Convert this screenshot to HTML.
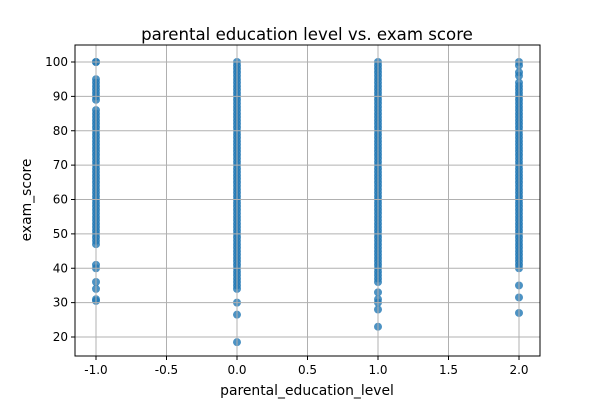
<!DOCTYPE html>
<html><head><meta charset="utf-8"><style>
body{margin:0;background:#fff;}
svg{display:block;font-family:"DejaVu Sans","Liberation Sans",sans-serif;}
</style></head><body>
<svg id="chart" width="600" height="400">
<rect width="600" height="400" fill="#fff"/>
<text x="307" y="40" text-anchor="middle" font-size="16.6">parental education level vs. exam score</text>
<g id="pts"></g><g id="grid"></g><g id="axes"></g>
<text x="307" y="395" text-anchor="middle" font-size="13.9">parental_education_level</text>
<text transform="translate(31,200) rotate(-90)" text-anchor="middle" font-size="13.9">exam_score</text>
</svg>
<script>
const categories=[-1,0,1,2];
const scoresNeg1=[100,100,95,94,93,92,91,90,89,86,85,84,83,82,81,80,79,78,77,76,75,74,73,72,71,70,69,68,67,66,65,64,63,62,61,60,59,58,57,56,55,54,53,52,51,50,49,48,47,41,40,36,34,31,30.5];
const scores0=[100,99,98,97,96,95,94,93,92,91,90,89,88,87,86,85,84,83,82,81,80,79,78,77,76,75,74,73,72,71,70,69,68,67,66,65,64,63,62,61,60,59,58,57,56,55,54,53,52,51,50,49,48,47,46,45,44,43,42,41,40,39,38,37,36,35,34,30,26.5,18.5];
const scores1=[100,99,98,97,96,95,94,93,92,91,90,89,88,87,86,85,84,83,82,81,80,79,78,77,76,75,74,73,72,71,70,69,68,67,66,65,64,63,62,61,60,59,58,57,56,55,54,53,52,51,50,49,48,47,46,45,44,43,42,41,40,39,38,37,36,33,31,30,28,23];
const scores2=[100,99,97,96,94,93,92,91,90,89,88,87,86,85,84,83,82,81,80,79,78,77,76,75,74,73,72,71,70,69,68,67,66,65,64,63,62,61,60,59,58,57,56,55,54,53,52,51,50,49,48,47,46,45,44,43,42,41,40,35,31.5,27];
const seriesScores=[scoresNeg1,scores0,scores1,scores2];
const xTicks=[-1.0,-0.5,0.0,0.5,1.0,1.5,2.0];
const yTicks=[20,30,40,50,60,70,80,90,100];
const NS="http://www.w3.org/2000/svg";
const L=75,R=540,T=45,B=356;
const xs=v=>237+(v-0)*141;
const ys=v=>62+(100-v)*3.4375;
const grid=document.getElementById('grid'),pts=document.getElementById('pts'),axes=document.getElementById('axes');
function mk(tag,at,parent){const e=document.createElementNS(NS,tag);for(const k in at)e.setAttribute(k,at[k]);parent.appendChild(e);return e;}
xTicks.forEach(t=>{
  const x=xs(t);
  const g=mk('line',{x1:x,x2:x,y1:T,y2:B,stroke:'#b0b0b0','stroke-width':1},grid);
  
  
  mk('line',{x1:x,x2:x,y1:B,y2:B+4,stroke:'#000'},axes);
  const tx=mk('text',{x:x,y:B+18,'text-anchor':'middle','font-size':12},axes);
  tx.textContent=t.toFixed(1);
  
  
});
yTicks.forEach(t=>{
  const y=ys(t);
  const g=mk('line',{x1:L,x2:R,y1:y,y2:y,stroke:'#b0b0b0','stroke-width':1},grid);
  
  
  mk('line',{x1:L-4,x2:L,y1:y,y2:y,stroke:'#000'},axes);
  const tx=mk('text',{x:L-7,y:y+4,'text-anchor':'end','font-size':12},axes);
  tx.textContent=t;
  
  
});
const fr=mk('rect',{x:L,y:T,width:R-L,height:B-T,fill:'none',stroke:'#000','stroke-width':1},axes);


categories.forEach((c,i)=>{
  seriesScores[i].forEach(s=>{
    const p=mk('circle',{cx:xs(c),cy:ys(s),r:4,fill:'#1f77b4','fill-opacity':0.8},pts);
    
    
  });
});
</script>
</body></html>
